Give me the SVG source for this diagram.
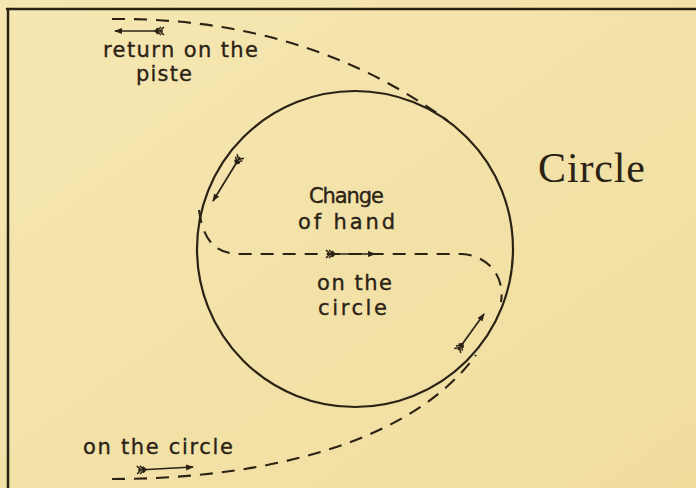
<svg xmlns="http://www.w3.org/2000/svg" width="696" height="488" viewBox="0 0 696 488">
<style>
.ink{fill:none;stroke:#2b2216;stroke-linecap:round}
.dash{fill:none;stroke:#2b2216;stroke-width:2.1;stroke-dasharray:13 9}
.arrow{fill:none;stroke:#2b2216;stroke-width:1.7;marker-end:url(#head);marker-start:url(#fletch)}
.hand{font-family:"DejaVu Sans","Liberation Sans",sans-serif;font-size:21px;fill:#2b2216;stroke:#2b2216;stroke-width:0.35}
.title{font-family:"Liberation Serif",serif;font-size:42px;fill:#2b2216}
</style>
<defs>
<linearGradient id="bg" x1="0" y1="0" x2="1" y2="1">
<stop offset="0" stop-color="#F6E7B2"/>
<stop offset="1" stop-color="#F0DD9E"/>
</linearGradient>
<marker id="head" viewBox="0 -4 8 8" refX="7" refY="0" markerWidth="8" markerHeight="8" markerUnits="userSpaceOnUse" orient="auto">
<path d="M0,-3 L8,0 L0,3 Z" fill="#2b2216"/>
</marker>
<marker id="fletch" viewBox="-1 -5 11 10" refX="1" refY="0" markerWidth="11" markerHeight="10" markerUnits="userSpaceOnUse" orient="auto">
<path d="M0,-4 L4,0 L0,4 M3,-4 L7,0 L3,4 M6,-3 L9,0 L6,3" fill="none" stroke="#2b2216" stroke-width="1.5"/>
</marker>
</defs>
<rect width="696" height="488" fill="url(#bg)"/>
<g id="frame">
<line class="ink" x1="7" y1="9" x2="696" y2="9" stroke-width="2.5"/>
<line class="ink" x1="8" y1="9" x2="8" y2="488" stroke-width="2.5"/>
</g>
<g id="circle">
<circle cx="355" cy="249" r="158" fill="none" stroke="#2b2216" stroke-width="2.2"/>
</g>
<g id="connectors">
<path class="dash" d="M112 19 C 240 18, 350 50, 448 121"/>
<path class="dash" d="M199 210 C 203 240, 215 254, 240 254 L 462 254 C 490 256, 505 278, 501 302"/>
<path class="dash" d="M112 479 C 260 479, 410 445, 476 355"/>
<line class="arrow" x1="163" y1="31" x2="115" y2="31"/>
<line class="arrow" x1="240" y1="157" x2="213" y2="201"/>
<line class="arrow" x1="327" y1="254" x2="375" y2="254"/>
<line class="arrow" x1="458" y1="350" x2="484" y2="314"/>
<line class="arrow" x1="138" y1="470" x2="193" y2="467"/>
</g>
<g id="labels">
<text class="hand" x="103" y="57" textLength="155" lengthAdjust="spacing">return on the</text>
<text class="hand" x="136" y="81" textLength="56" lengthAdjust="spacing">piste</text>
<text class="hand" x="309" y="203" font-size="19" textLength="75" lengthAdjust="spacing">Change</text>
<text class="hand" x="298" y="229" textLength="97" lengthAdjust="spacing">of hand</text>
<text class="hand" x="317" y="290" textLength="75" lengthAdjust="spacing">on the</text>
<text class="hand" x="318" y="315" textLength="69" lengthAdjust="spacing">circle</text>
<text class="hand" x="83" y="454" textLength="150" lengthAdjust="spacing">on the circle</text>
<text class="title" x="538" y="182" textLength="107" lengthAdjust="spacing">Circle</text>
</g>
</svg>
